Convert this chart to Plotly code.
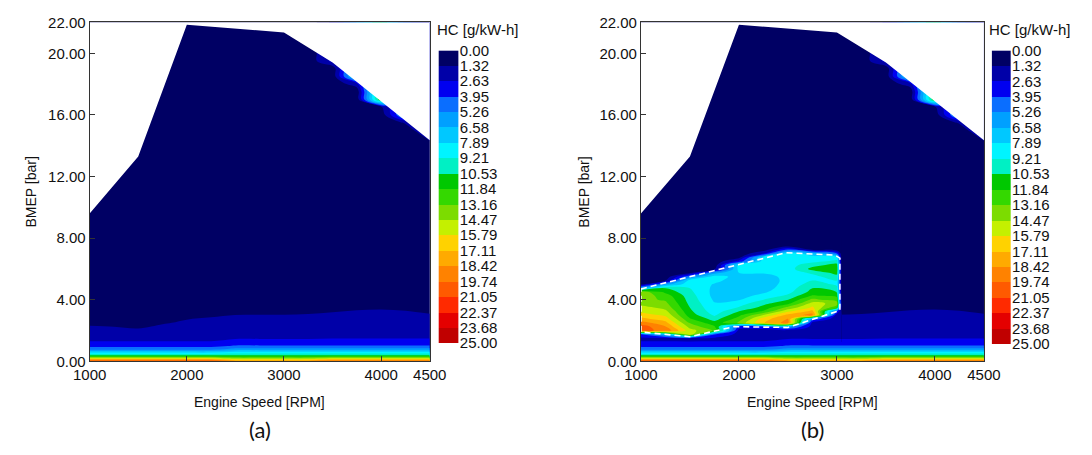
import plotly.graph_objects as go

# ---------------- data ----------------
RPM = [1000, 1250, 1500, 1750, 2000, 2250, 2500, 2750, 3000, 3250, 3500, 3750, 4000, 4250, 4500]
BMEP = [0.0, 0.1, 0.2, 0.3, 0.4, 0.5, 0.65, 0.8, 1.0, 1.25, 1.5, 2.0, 2.5, 3.0, 3.5, 4.0,
        8.0, 12.0, 14.0, 15.0, 15.5, 16.0, 16.5, 17.0, 17.5, 18.0, 18.5, 19.0, 19.5, 20.0, 22.0]
# HC [g/kW-h], rows = BMEP, columns = RPM (baseline map, panel a)
HC_BASE = [
    [21.0, 21.0, 21.0, 21.0, 21.0, 21.0, 19.0, 19.0, 19.0, 19.0, 20.0, 20.0, 20.0, 20.0, 20.0],
    [18.5, 18.5, 18.5, 18.5, 18.5, 18.5, 16.5, 16.5, 16.5, 16.5, 17.5, 17.5, 17.5, 17.5, 17.5],
    [15.5, 15.5, 15.5, 15.5, 15.5, 15.5, 14.0, 14.0, 14.0, 14.0, 15.0, 15.0, 15.0, 15.0, 15.0],
    [12.5, 12.5, 12.5, 12.5, 12.5, 12.5, 12.0, 12.0, 12.0, 12.0, 12.5, 12.5, 12.5, 12.5, 12.5],
    [10.5, 10.5, 10.5, 10.5, 10.5, 10.5, 10.5, 10.5, 10.5, 10.5, 10.5, 10.5, 10.5, 10.5, 10.5],
    [8.8, 8.8, 8.8, 8.8, 8.8, 8.8, 9.3, 9.3, 9.3, 9.3, 9.3, 9.3, 9.3, 9.3, 9.3],
    [6.8, 6.8, 6.8, 6.8, 6.8, 6.8, 7.6, 7.6, 7.6, 7.6, 7.6, 7.6, 7.6, 7.6, 7.6],
    [4.6, 4.6, 4.6, 4.6, 4.6, 4.6, 5.6, 5.6, 5.6, 5.6, 5.6, 5.6, 5.6, 5.6, 5.6],
    [3.6, 3.6, 3.6, 3.6, 3.6, 3.6, 4.1, 4.1, 4.1, 4.1, 4.1, 4.1, 4.1, 4.1, 4.1],
    [2.7, 2.7, 2.7, 2.7, 2.7, 2.7, 3.0, 3.0, 3.0, 3.0, 3.0, 3.0, 3.0, 3.0, 3.0],
    [2.4, 2.4, 2.4, 2.4, 2.4, 2.4, 2.55, 2.55, 2.55, 2.55, 2.6, 2.6, 2.6, 2.6, 2.6],
    [1.8, 1.7, 1.5, 1.8, 2.0, 2.1, 2.2, 2.2, 2.2, 2.2, 2.3, 2.3, 2.3, 2.3, 2.2],
    [1.0, 0.9, 0.8, 1.2, 1.5, 1.6, 1.75, 1.75, 1.8, 1.8, 1.9, 2.0, 2.0, 2.0, 1.85],
    [0.6, 0.55, 0.5, 0.8, 1.05, 1.2, 1.32, 1.35, 1.35, 1.4, 1.5, 1.6, 1.65, 1.6, 1.4],
    [0.4, 0.4, 0.4, 0.5, 0.55, 0.6, 0.7, 0.75, 0.8, 0.85, 1.0, 1.15, 1.2, 1.1, 0.9],
    [0.4, 0.4, 0.4, 0.4, 0.4, 0.45, 0.5, 0.5, 0.5, 0.55, 0.6, 0.7, 0.75, 0.7, 0.6],
    [0.4, 0.4, 0.4, 0.4, 0.4, 0.4, 0.4, 0.4, 0.4, 0.4, 0.4, 0.4, 0.4, 0.4, 0.4],
    [0.4, 0.4, 0.4, 0.4, 0.4, 0.4, 0.4, 0.4, 0.4, 0.4, 0.4, 0.4, 0.4, 0.4, 0.4],
    [0.4, 0.4, 0.4, 0.4, 0.4, 0.4, 0.4, 0.4, 0.4, 0.4, 0.4, 0.4, 0.4, 0.4, 0.5],
    [0.4, 0.4, 0.4, 0.4, 0.4, 0.4, 0.4, 0.4, 0.4, 0.4, 0.4, 0.4, 0.4, 0.4, 3.0],
    [0.4, 0.4, 0.4, 0.4, 0.4, 0.4, 0.4, 0.4, 0.4, 0.4, 0.4, 0.4, 0.4, 1.5, 3.0],
    [0.4, 0.4, 0.4, 0.4, 0.4, 0.4, 0.4, 0.4, 0.4, 0.4, 0.4, 0.4, 0.4, 6.0, 3.0],
    [0.4, 0.4, 0.4, 0.4, 0.4, 0.4, 0.4, 0.4, 0.4, 0.4, 0.4, 0.4, 1.0, 6.0, 3.0],
    [0.4, 0.4, 0.4, 0.4, 0.4, 0.4, 0.4, 0.4, 0.4, 0.4, 0.4, 0.4, 12.0, 6.0, 3.0],
    [0.4, 0.4, 0.4, 0.4, 0.4, 0.4, 0.4, 0.4, 0.4, 0.4, 0.4, 0.4, 12.0, 6.0, 3.0],
    [0.4, 0.4, 0.4, 0.4, 0.4, 0.4, 0.4, 0.4, 0.4, 0.4, 0.4, 2.0, 12.0, 6.0, 3.0],
    [0.4, 0.4, 0.4, 0.4, 0.4, 0.4, 0.4, 0.4, 0.4, 0.4, 0.4, 8.0, 12.0, 6.0, 3.0],
    [0.4, 0.4, 0.4, 0.4, 0.4, 0.4, 0.4, 0.4, 0.4, 0.4, 0.4, 8.0, 12.0, 6.0, 3.0],
    [0.4, 0.4, 0.4, 0.4, 0.4, 0.4, 0.4, 0.4, 0.4, 0.4, 3.0, 8.0, 12.0, 6.0, 3.0],
    [0.4, 0.4, 0.4, 0.4, 0.4, 0.4, 0.4, 0.4, 0.4, 0.4, 3.0, 8.0, 12.0, 6.0, 3.0],
    [0.4, 0.4, 0.4, 0.4, 0.4, 0.4, 0.4, 0.4, 0.4, 0.4, 3.0, 8.0, 12.0, 6.0, 3.0],
]

# panel b: modified low-load region (replaces the baseline inside this block)
PATCH_RPM = [1000, 1250, 1500, 1750, 2000, 2250, 2500, 2750, 3000, 3050]
PATCH_BMEP = [1.25, 1.5, 1.75, 2.0, 2.25, 2.5, 2.75, 3.0, 3.25, 3.5, 3.75, 4.0, 4.25, 4.5,
              4.75, 5.0, 5.25, 5.5, 5.75, 6.0, 6.25, 6.5, 6.75, 7.0, 7.25, 7.5, 7.75, 8.0]
HC_PATCH = [
    [2.7, 2.7, 2.7, 2.7, 2.7, 2.7, 3.0, 3.0, 3.0, 3.0],
    [2.4, 2.35, 2.3, 2.4, 2.4, 2.4, 2.55, 2.55, 2.55, 2.55],
    [3.5, 7.0, 16.0, 4.0, 2.2, 2.2, 2.3, 2.3, 2.3, 2.3],
    [20.0, 19.5, 15.0, 13.0, 2.1, 2.1, 2.2, 2.2, 2.2, 2.2],
    [20.5, 18.5, 14.0, 12.0, 3.5, 3.5, 6.0, 2.1, 2.1, 2.1],
    [19.0, 17.5, 13.0, 11.0, 13.5, 17.0, 19.0, 2.1, 1.9, 1.85],
    [17.5, 16.5, 12.0, 10.0, 12.5, 16.5, 18.5, 5.0, 1.7, 1.6],
    [16.5, 15.5, 11.2, 9.0, 11.5, 14.5, 17.5, 19.0, 1.5, 1.35],
    [15.5, 14.8, 10.8, 8.5, 10.5, 12.0, 15.5, 17.5, 4.0, 1.1],
    [15.0, 14.0, 10.5, 8.2, 9.3, 11.0, 13.5, 16.0, 12.0, 0.8],
    [14.0, 13.5, 10.2, 8.0, 8.6, 10.2, 11.5, 15.0, 14.0, 0.65],
    [13.5, 13.0, 10.0, 7.7, 7.8, 9.2, 10.5, 13.5, 12.5, 0.5],
    [14.0, 12.5, 9.8, 7.5, 7.4, 8.3, 9.5, 12.0, 11.5, 0.4],
    [14.0, 11.5, 9.5, 7.5, 7.3, 7.7, 8.8, 11.0, 10.5, 0.4],
    [6.0, 10.5, 9.2, 7.6, 7.2, 7.4, 8.5, 10.5, 9.5, 0.4],
    [1.0, 6.0, 8.8, 7.8, 7.2, 7.3, 8.3, 9.8, 9.0, 0.4],
    [0.5, 1.2, 8.5, 8.2, 7.3, 7.3, 8.2, 9.2, 9.2, 0.4],
    [0.4, 0.4, 5.0, 8.4, 7.5, 7.5, 8.2, 8.8, 10.0, 0.4],
    [0.4, 0.4, 1.0, 6.0, 7.9, 8.0, 8.3, 9.5, 11.0, 0.4],
    [0.4, 0.4, 0.4, 1.0, 8.3, 8.3, 8.5, 11.0, 11.5, 0.4],
    [0.4, 0.4, 0.4, 0.4, 8.5, 8.5, 8.6, 10.0, 11.0, 0.4],
    [0.4, 0.4, 0.4, 0.4, 3.0, 8.5, 8.8, 8.8, 9.5, 0.4],
    [0.4, 0.4, 0.4, 0.4, 0.8, 8.2, 9.0, 8.5, 8.5, 0.4],
    [0.4, 0.4, 0.4, 0.4, 0.4, 2.5, 8.8, 7.0, 4.0, 0.4],
    [0.4, 0.4, 0.4, 0.4, 0.4, 0.6, 4.0, 1.0, 0.6, 0.4],
    [0.4, 0.4, 0.4, 0.4, 0.4, 0.4, 0.6, 0.4, 0.4, 0.4],
    [0.4, 0.4, 0.4, 0.4, 0.4, 0.4, 0.4, 0.4, 0.4, 0.4],
    [0.4, 0.4, 0.4, 0.4, 0.4, 0.4, 0.4, 0.4, 0.4, 0.4],
]

# full-load (max BMEP) line; the map is blank above it
WOT_RPM = [1000, 1500, 2000, 3000, 3500, 4500]
WOT_BMEP = [9.6, 13.3, 21.85, 21.35, 19.4, 14.35]

# dashed boundary of the modified region (panel b)
DASH_RPM = [1000, 2480, 2980, 3030, 3030, 2500, 1950, 1500, 1000, 1000]
DASH_BMEP = [4.7, 7.05, 6.9, 6.7, 3.3, 2.2, 2.25, 1.6, 1.9, 4.7]

LEVEL_LABELS = ["0.00", "1.32", "2.63", "3.95", "5.26", "6.58", "7.89", "9.21", "10.53",
                "11.84", "13.16", "14.47", "15.79", "17.11", "18.42", "19.74", "21.05",
                "22.37", "23.68", "25.00"]
BAND_COLORS = ["#000064", "#0000a8", "#0000f0", "#0a6eff", "#00a0ff", "#00c8ff", "#00f4ff",
               "#00f0c4", "#00c800", "#34d800", "#7cdc00", "#c4f000", "#ffd200", "#ffaa00",
               "#ff8200", "#ff5a00", "#ff2a00", "#e40000", "#c00000"]
X_TICKS = [1000, 2000, 3000, 4000, 4500]
Y_TICKS = [0, 4, 8, 12, 16, 20, 22]

# ---------------- figure ----------------
W, H = 1092, 455
def px(x):
    return x / W
def py(y):
    return 1 - y / H

LEVEL_EDGES = [float(s) for s in LEVEL_LABELS]
ZMAX = LEVEL_EDGES[-1]
NB = len(BAND_COLORS)
STEP = ZMAX / NB

# colour map for filled contours (band k is coloured at its midpoint)
CONTOUR_SCALE = [[0.0, BAND_COLORS[0]]]
for k, c in enumerate(BAND_COLORS):
    CONTOUR_SCALE.append([(k + 1) / (NB + 1), c])
CONTOUR_SCALE.append([1.0, BAND_COLORS[-1]])

BAR_SCALE = [[k / (NB - 1), c] for k, c in enumerate(BAND_COLORS)]

FONT = "Liberation Sans, Arial, sans-serif"

def contour(x, y, z, xa, ya):
    return go.Contour(x=x, y=y, z=z, xaxis=xa, yaxis=ya, autocontour=False,
                      contours=dict(start=0, end=ZMAX, size=STEP, coloring="fill",
                                    showlines=False),
                      colorscale=CONTOUR_SCALE, showscale=False,
                      line=dict(width=0), hoverinfo="skip")

def blank_above_wot(xa, ya):
    xs = [900] + WOT_RPM + [4600, 4600, 900]
    ys = [WOT_BMEP[0]] + WOT_BMEP + [WOT_BMEP[-1], 24, 24]
    return go.Scatter(x=xs, y=ys, xaxis=xa, yaxis=ya,
                      mode="lines", fill="toself", fillcolor="white",
                      line=dict(width=0, color="white"), hoverinfo="skip", showlegend=False)

def bar(xa, ya):
    return go.Heatmap(x=[0, 1], y=LEVEL_EDGES, z=[[k] for k in range(NB)], xaxis=xa, yaxis=ya,
                      colorscale=BAR_SCALE, zmin=0, zmax=NB - 1, showscale=False,
                      hoverinfo="skip")

fig = go.Figure()
fig.add_trace(contour(RPM, BMEP, HC_BASE, "x", "y"))
fig.add_trace(blank_above_wot("x", "y"))
fig.add_trace(contour(RPM, BMEP, HC_BASE, "x2", "y2"))
fig.add_trace(contour(PATCH_RPM, PATCH_BMEP, HC_PATCH, "x2", "y2"))
fig.add_trace(blank_above_wot("x2", "y2"))
fig.add_trace(go.Scatter(x=DASH_RPM, y=DASH_BMEP, xaxis="x2", yaxis="y2", mode="lines",
                         line=dict(color="white", width=1.6, dash="6px,4px"),
                         hoverinfo="skip", showlegend=False))
fig.add_trace(bar("x3", "y3"))
fig.add_trace(bar("x4", "y4"))

tickfont = dict(family=FONT, size=15, color="#111")
xcommon = dict(range=[1000, 4500], tickvals=X_TICKS, ticktext=[str(v) for v in X_TICKS],
               ticks="inside", ticklen=5, tickcolor="#333", showline=True, mirror=True,
               linecolor="#333", linewidth=1, showgrid=False, zeroline=False,
               tickfont=tickfont)
ycommon = dict(range=[0, 22], tickvals=Y_TICKS, ticktext=["%.2f" % v for v in Y_TICKS],
               ticks="inside", ticklen=5, tickcolor="#333", showline=True, mirror=True,
               linecolor="#333", linewidth=1, showgrid=False, zeroline=False,
               tickfont=tickfont)
ydom = [py(366), py(14)]
bar_common_x = dict(range=[0, 1], showticklabels=False, ticks="", showgrid=False,
                    zeroline=False, showline=False, fixedrange=True)
bar_common_y = dict(range=[ZMAX, 0], side="right", tickvals=LEVEL_EDGES,
                    ticktext=LEVEL_LABELS, ticks="", showgrid=False, zeroline=False,
                    showline=False, tickfont=tickfont, fixedrange=True)

fig.update_layout(
    width=W, height=H, margin=dict(l=0, r=0, t=0, b=0),
    paper_bgcolor="white", plot_bgcolor="white", showlegend=False,
    xaxis=dict(domain=[px(75), px(426)], anchor="y", **xcommon),
    yaxis=dict(domain=ydom, anchor="x", **ycommon),
    xaxis2=dict(domain=[px(644), px(998)], anchor="y2", **xcommon),
    yaxis2=dict(domain=ydom, anchor="x2", **ycommon),
    xaxis3=dict(domain=[px(435), px(456)], anchor="y3", **bar_common_x),
    yaxis3=dict(domain=[py(347), py(43)], anchor="x3", **bar_common_y),
    xaxis4=dict(domain=[px(1006), px(1026)], anchor="y4", **bar_common_x),
    yaxis4=dict(domain=[py(348), py(43)], anchor="x4", **bar_common_y),
)

ann = []
for cx, ylab_x, cbx, tag in [((75 + 426) / 2, 14, 431, "(a)"), ((644 + 998) / 2, 585, 1001, "(b)")]:
    ann.append(dict(x=px(cx), y=py(408), xref="paper", yref="paper", text="Engine Speed [RPM]",
                    showarrow=False, xanchor="center", yanchor="middle",
                    font=dict(family=FONT, size=14, color="#111")))
    ann.append(dict(x=px(ylab_x), y=py(190), xref="paper", yref="paper", text="BMEP [bar]",
                    showarrow=False, xanchor="center", yanchor="middle", textangle=-90,
                    font=dict(family=FONT, size=14, color="#111")))
    ann.append(dict(x=px(cbx), y=py(21), xref="paper", yref="paper", text="HC [g/kW-h]",
                    showarrow=False, xanchor="left", yanchor="middle",
                    font=dict(family=FONT, size=15, color="#111")))
    ann.append(dict(x=px(cx), y=py(437), xref="paper", yref="paper", text=tag,
                    showarrow=False, xanchor="center", yanchor="middle",
                    font=dict(family="Lato, Carlito, sans-serif", size=22, color="#111")))
fig.update_layout(annotations=ann)

fig.write_html("out.html")
